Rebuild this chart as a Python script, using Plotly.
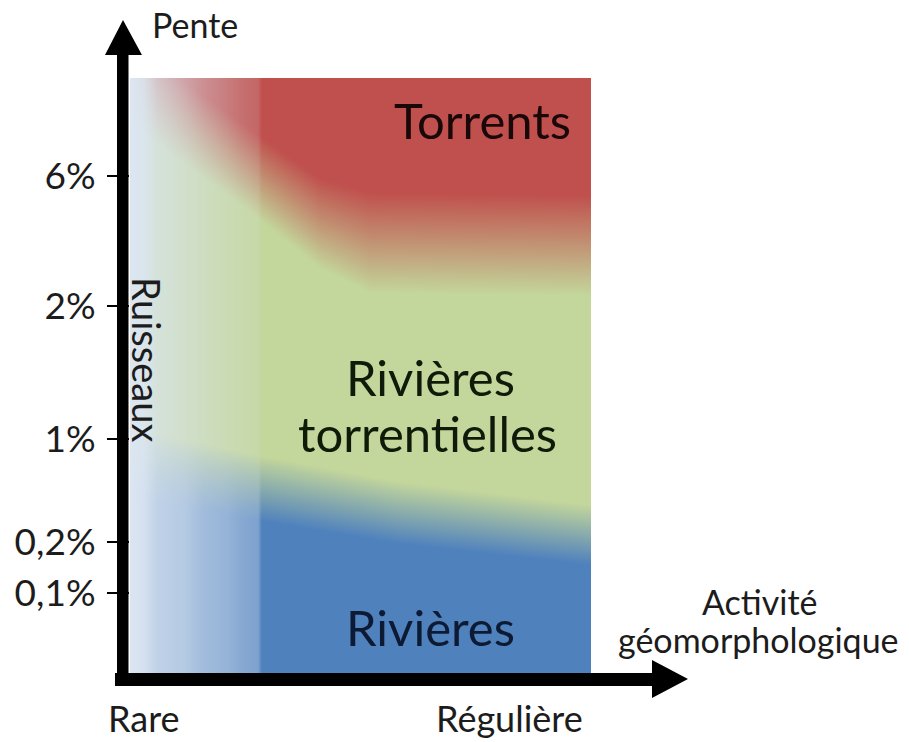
import numpy as np
import plotly.graph_objects as go

# ---------------- data (diagram units: 0-100 on both axes) ----------------
pente_labels = ["0,1%", "0,2%", "1%", "2%", "6%"]
pente_pos = [13.4, 22.0, 39.3, 61.7, 83.5]

activite_labels = ["Rare", "Régulière"]
activite_pos = [3.0, 82.4]

# boundary Torrents / Rivières torrentielles (centre of the colour transition)
limite_torrent_x = [0.0, 8.0, 26.0, 41.2, 52.1, 100.0]
limite_torrent_y = [99.2, 94.6, 84.5, 75.6, 72.3, 71.9]
limite_torrent_demi = [7.0, 7.0, 7.0, 7.5, 8.4, 8.4]

# boundary Rivières torrentielles / Rivières
limite_riviere_x = [0.0, 28.2, 58.6, 100.0]
limite_riviere_y = [35.3, 31.1, 26.9, 23.2]
limite_riviere_demi = [6.0, 5.5, 5.2, 5.0]

# "Ruisseaux" zone: weight of the pale colour against activity
# (lower part: Rivières, upper part: Rivières torrentielles / Torrents)
ruisseaux_x = [0.0, 3.0, 6.0, 12.0, 16.0, 21.0, 24.0, 27.8, 28.6, 100.0]
ruisseaux_poids_bas = [1.0, 0.95, 0.8, 0.72, 0.58, 0.5, 0.4, 0.33, 0.0, 0.0]
ruisseaux_poids_haut = [1.0, 0.93, 0.72, 0.55, 0.42, 0.3, 0.22, 0.15, 0.0, 0.0]

RED = np.array([192, 80, 77], dtype=float)
GREEN = np.array([195, 214, 155], dtype=float)
BLUE = np.array([79, 129, 189], dtype=float)
PALE = np.array([220, 230, 242], dtype=float)

# ---------------- colour field ----------------
W, H = 461, 595
dx, dy = 100.0 / W, 100.0 / H
xs = (np.arange(W) + 0.5) * dx
ys = (np.arange(H) + 0.5) * dy
X, Y = np.meshgrid(xs, ys)

b1 = np.interp(xs, limite_torrent_x, limite_torrent_y)[None, :]
h1 = np.interp(xs, limite_torrent_x, limite_torrent_demi)[None, :]
b2 = np.interp(xs, limite_riviere_x, limite_riviere_y)[None, :]
h2 = np.interp(xs, limite_riviere_x, limite_riviere_demi)[None, :]
a_bas = np.interp(xs, ruisseaux_x, ruisseaux_poids_bas)[None, :, None]
a_haut = np.interp(xs, ruisseaux_x, ruisseaux_poids_haut)[None, :, None]

t_rg = np.clip((Y - (b1 - h1)) / (2 * h1), 0, 1)[..., None]
t_gb = np.clip((Y - (b2 - h2)) / (2 * h2), 0, 1)[..., None]

a = a_bas * (1 - t_gb) + a_haut * t_gb

col = BLUE * (1 - t_gb) + GREEN * t_gb
col = col * (1 - t_rg) + RED * t_rg
col = col * (1 - a) + PALE * a
img = np.clip(np.round(col), 0, 255).astype(int).tolist()

# ---------------- layout helpers (pixel -> paper) ----------------
L, R, T, B = 130, 591, 78, 673
FW, FH = 909, 742


def px(x):
    return (x - L) / (R - L)


def py(y):
    return (B - y) / (B - T)


fig = go.Figure()
fig.add_trace(go.Image(z=img, x0=dx / 2, dx=dx, y0=dy / 2, dy=dy,
                       hoverinfo="skip"))

FONT = "Lato, 'Open Sans', sans-serif"
TXT = "#1c1c1c"

annotations = []


def add_text(text, x, y, size, color=TXT, angle=0):
    annotations.append(dict(text=text, x=px(x), y=py(y), xref="paper",
                            yref="paper", showarrow=False, textangle=angle,
                            xanchor="center", yanchor="middle",
                            font=dict(family=FONT, size=size, color=color)))


add_text("Torrents", 482, 120.5, 49, "#1a0808")
add_text("Rivières", 430, 377, 49, "#101a08")
add_text("torrentielles", 427, 432.5, 49, "#101a08")
add_text("Rivières", 430, 627, 49, "#0d1a33")
add_text("Ruisseaux", 147, 359, 38, TXT, 90)
add_text("Pente", 195, 24, 34)
add_text("Activité", 760, 601, 34)
add_text("géomorphologique", 758, 639, 34)

for lab, pos in zip(activite_labels, activite_pos):
    annotations.append(dict(text=lab, x=pos, y=py(718), xref="x",
                            yref="paper", showarrow=False,
                            xanchor="center", yanchor="middle",
                            font=dict(family=FONT, size=36, color=TXT)))


def path(points):
    s = "M " + " L ".join(f"{px(x):.5f},{py(y):.5f}" for x, y in points)
    return s + " Z"


shapes = [
    dict(type="path", xref="paper", yref="paper", layer="above",
         path=path([(117, 686), (128.5, 686), (128.5, 55), (142, 55),
                    (123, 20), (105, 55), (117, 55)]),
         fillcolor="black", line=dict(width=0)),
    dict(type="path", xref="paper", yref="paper", layer="above",
         path=path([(115, 673), (652, 673), (652, 660), (688, 679),
                    (652, 698), (652, 686), (115, 686)]),
         fillcolor="black", line=dict(width=0)),
]

fig.update_layout(
    width=FW, height=FH,
    margin=dict(l=L, r=FW - R, t=T, b=FH - B, pad=0),
    paper_bgcolor="white", plot_bgcolor="white",
    showlegend=False, hovermode=False,
    annotations=annotations, shapes=shapes,
    xaxis=dict(range=[0, 100], autorange=False, visible=False,
               fixedrange=True, constrain="range"),
    yaxis=dict(range=[0, 100], autorange=False, scaleanchor=False,
               constrain="range", showgrid=False,
               zeroline=False, showline=False, ticks="outside",
               ticklen=22, tickwidth=2, tickcolor="black",
               tickvals=pente_pos, ticktext=pente_labels,
               ticklabelstandoff=4,
               tickfont=dict(family=FONT, size=37, color=TXT),
               fixedrange=True),
)

fig.write_html("out.html",
               config={"displayModeBar": False},
               post_script="document.body.style.margin='0';"
                           "document.body.style.overflow='hidden';")
